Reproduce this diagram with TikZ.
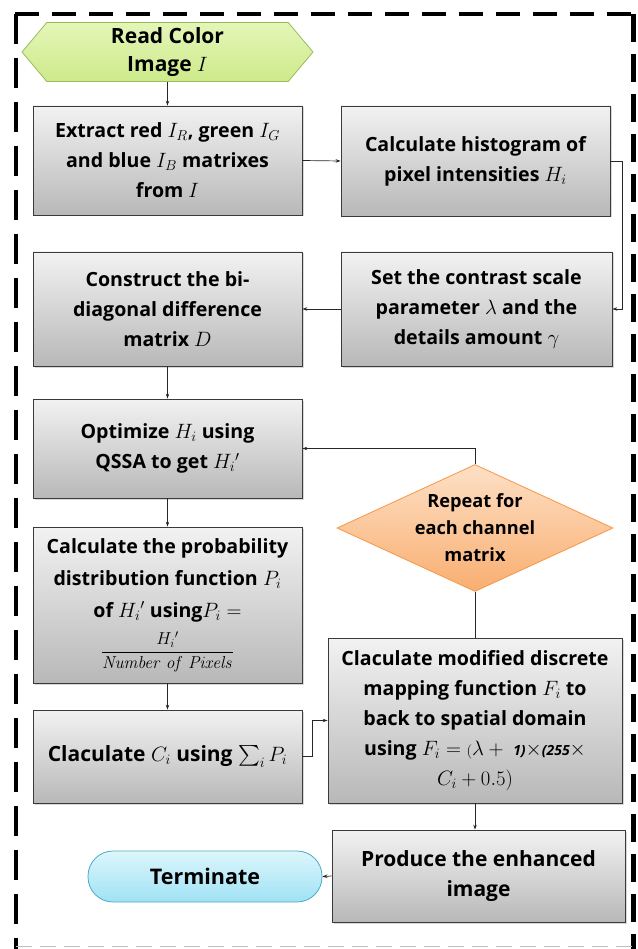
\documentclass[tikz,border=0pt]{standalone}
\usepackage{amsmath}
\usepackage[no-math]{fontspec}
\setmainfont{Open Sans}
\usetikzlibrary{shapes.geometric,shapes.symbols,arrows.meta,shadows}
\definecolor{hexT}{HTML}{E4F6B8}
\definecolor{hexB}{HTML}{CDEA8A}
\definecolor{hexD}{HTML}{9BBB59}
\definecolor{diaT}{HTML}{FDE0C6}
\definecolor{diaB}{HTML}{F9AE70}
\definecolor{diaD}{HTML}{F79646}
\definecolor{trmT}{HTML}{DDF6FC}
\definecolor{trmB}{HTML}{9FE2F4}
\definecolor{trmD}{HTML}{4BACC6}
\definecolor{boxT}{HTML}{F2F2F2}
\definecolor{boxB}{HTML}{B8B8B8}
\definecolor{boxD}{HTML}{3A3A3A}
\newcommand{\fsz}[2]{\fontsize{#1}{#2}\selectfont\bfseries}
\begin{document}
\begin{tikzpicture}[x=1pt,y=-1pt,
  stepbox/.style={draw=boxD, line width=0.8pt, top color=boxT, bottom color=boxB,
    minimum width=269pt, inner sep=0pt, align=center,
    drop shadow={shadow xshift=1.5pt, shadow yshift=-1.5pt, opacity=0.3}},
  arr/.style={-{Stealth[length=5pt,width=3.5pt]}, line width=0.7pt, draw=black!85},
  conn/.style={line width=0.7pt, draw=black!85},
  frameblack/.style={line width=3.8pt, black},
]
\useasboundingbox (0,0) rectangle (637,949);
% frame
\draw[frameblack, dash pattern=on 24pt off 13pt] (15,14) -- (634,14);
\draw[frameblack, dash pattern=on 30pt off 14pt] (16,14) -- (16,949);
\draw[frameblack, line width=5pt, dash pattern=on 28pt off 12pt] (633,14) -- (633,949);
\draw[gray!50, line width=1pt, dash pattern=on 16pt off 8pt] (16,946) -- (632,946);

% nodes
\node[shape=signal, signal to=west and east, signal pointer angle=100,
  draw=hexD, line width=0.8pt, top color=hexT, bottom color=hexB,
  minimum width=291pt, minimum height=59pt, inner sep=0pt, align=center,
  font=\fsz{21}{28}] (read) at (167.5,52) {Read Color\\Image $I$};

\node[stepbox, minimum height=109pt, font=\fsz{19.6}{30}] (extract) at (167.5,160.5)
  {Extract red $I_R$, green $I_G$\\and blue $I_B$ matrixes\\from $I$};
\node[stepbox, minimum height=110pt, font=\fsz{19.6}{30}] (hist) at (475.5,161)
  {Calculate histogram of\\pixel intensities $H_i$};
\node[stepbox, minimum height=114pt, font=\fsz{19.6}{30}] (construct) at (167.5,309)
  {Construct the bi-\\diagonal difference\\matrix $D$};
\node[stepbox, minimum width=271pt, minimum height=114pt, font=\fsz{19.6}{30}] (contrast) at (476.5,309)
  {Set the contrast scale\\parameter $\lambda$ and the\\details amount $\gamma$};
\node[stepbox, minimum height=99pt, font=\fsz{19.6}{30}] (optimize) at (167.5,448.5)
  {Optimize $H_i$ using\\QSSA to get $H_i{}'$};
\node[stepbox, minimum height=156pt, font=\fsz{19.6}{32}] (prob) at (167.5,605)
  {Calculate the probability\\distribution function $P_i$\\of $H_i{}'$ using$P_i =$\\[7pt]
   {\fontsize{18}{18}\selectfont$\displaystyle\frac{H_i{}'}{\mathit{Number\ of\ Pixels}}$}};
\node[stepbox, minimum height=93pt, font=\fsz{21}{30}] (cumul) at (167.5,756.5)
  {Claculate $C_i$ using $\sum_i P_i$};
\node[shape=diamond, aspect=2.17, draw=diaD, line width=0.8pt, top color=diaT, bottom color=diaB,
  minimum width=276pt, minimum height=127pt, inner sep=0pt, align=center,
  font=\fsz{18.2}{27}] (repeat) at (475,528) {Repeat for\\each channel\\matrix};
\node[stepbox, minimum width=294pt, minimum height=165pt, font=\fsz{19.6}{30}] (mapping) at (475,720.5)
  {Claculate modified discrete\\mapping function $F_i$ to\\back to spatial domain\\
   using $F_i = {\scriptstyle(}\lambda +\ \mbox{\fontsize{14}{14}\selectfont\itshape 1)}{\times}\mbox{\fontsize{14}{14}\selectfont\itshape (255}\times$\\
   $C_i + 0.5)$};
\node[stepbox, minimum width=293pt, minimum height=92pt, font=\fsz{21}{30}] (produce) at (478.5,876)
  {Produce the enhanced\\image};
\node[draw=trmD, line width=0.8pt, top color=trmT, bottom color=trmB, rounded corners=25pt,
  minimum width=234pt, minimum height=51pt, inner sep=0pt, font=\fsz{21.5}{28}] (term) at (205,876.5)
  {Terminate};

% connectors
\draw[arr] (read.south) -- (extract.north);
\draw[arr] (extract.east) -- (hist.west);
\draw[arr] (hist.east) -- ++(12,0) |- (contrast.east);
\draw[arr] (contrast.west) -- (construct.east);
\draw[arr] (construct.south) -- (optimize.north);
\draw[arr] (repeat.north) |- (optimize.east);
\draw[arr] (optimize.south) -- (prob.north);
\draw[arr] (prob.south) -- (cumul.north);
\draw[arr] (cumul.east) -- ++(10,0) |- (mapping.west);
\draw[conn] (repeat.south) -- (mapping.north);
\draw[arr] (mapping.south) -- (mapping.south |- produce.north);
\draw[arr] (produce.west) -- (term.east);
\end{tikzpicture}
\end{document}
